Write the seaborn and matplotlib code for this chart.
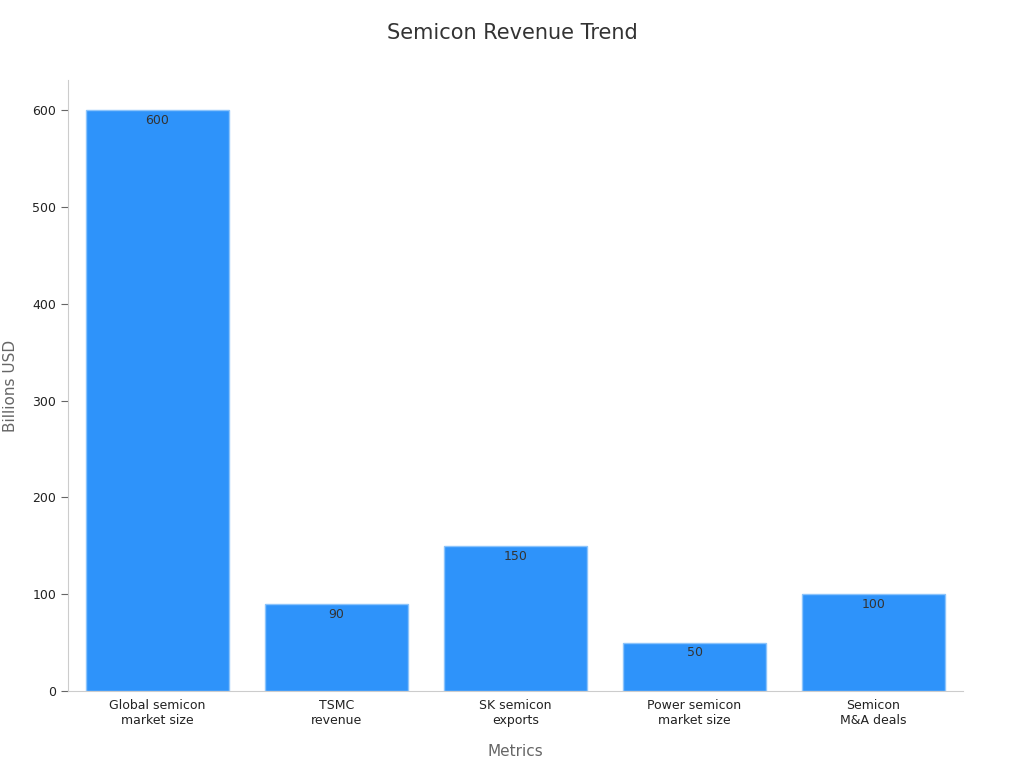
import matplotlib
matplotlib.use("Agg")
import matplotlib.pyplot as plt
import seaborn as sns
import pandas as pd

categories = ["Global semicon\nmarket size", "TSMC\nrevenue", "SK semicon\nexports", "Power semicon\nmarket size", "Semicon\nM&A deals"]
values = [600, 90, 150, 50, 100]
yticks = [0, 100, 200, 300, 400, 500, 600]

df = pd.DataFrame({"Metrics": categories, "Billions USD": values})
fig = plt.figure(figsize=(10.24, 7.68), dpi=100)
ax = fig.add_axes([68/1024, 1-691/768, 895/1024, 611/768])
sns.barplot(data=df, x="Metrics", y="Billions USD", color="#2E93FA", saturation=1, width=0.8,
            edgecolor="#8cc4fb", linewidth=1, ax=ax)
for i, v in enumerate(values):
    ax.text(i, v - 4, str(v), ha="center", va="top", fontsize=9, color="#333333")
ax.set_yticks(yticks)
ax.set_ylim(0, 631)
ax.set_xlim(-0.5, 4.5)
for s in ["top", "right"]:
    ax.spines[s].set_visible(False)
for s in ["left", "bottom"]:
    ax.spines[s].set_color("#cccccc")
ax.tick_params(axis="y", labelsize=9, colors="#333333", length=5)
ax.tick_params(axis="x", labelsize=9, colors="#333333", length=0, pad=6)
for t in ax.get_yticklabels() + ax.get_xticklabels():
    t.set_color("#222222")
ax.tick_params(axis="y", color="#666666")
ax.set_xlabel("Metrics", fontsize=11, color="#666666", labelpad=12)
ax.set_ylabel("Billions USD", fontsize=11, color="#666666", labelpad=10)
fig.suptitle("Semicon Revenue Trend", fontsize=15, color="#333333", y=0.97)
fig.savefig("out.png", dpi=100)
